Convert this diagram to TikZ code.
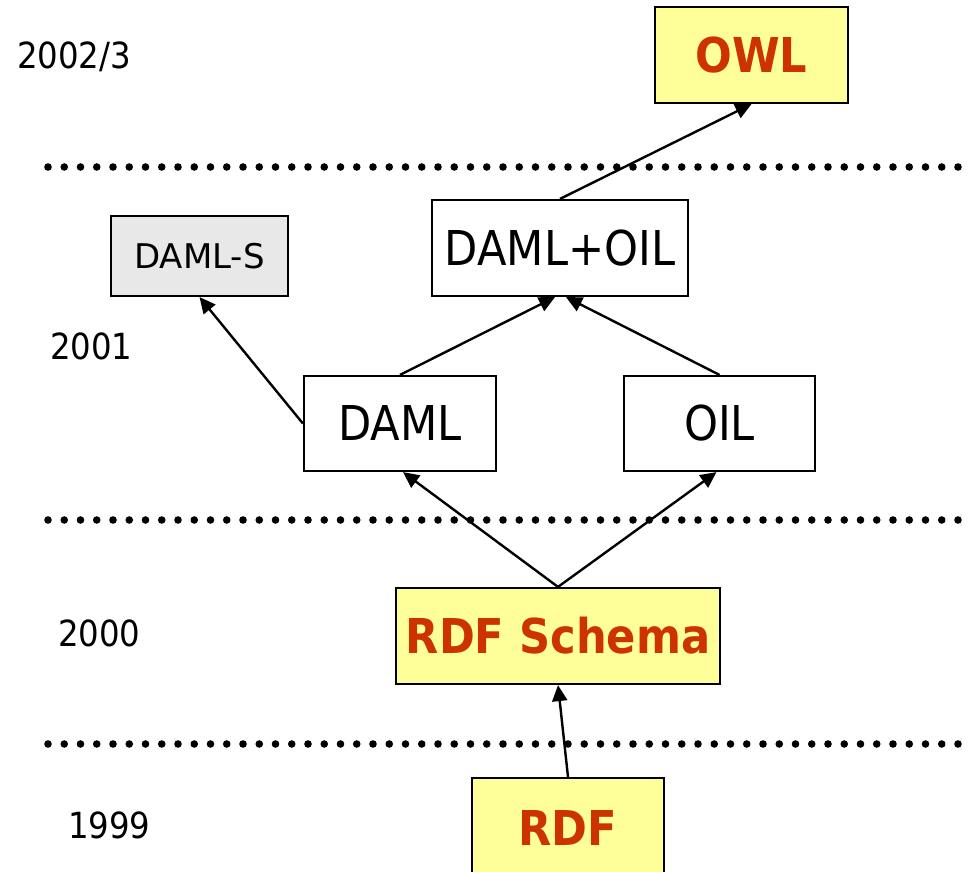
\documentclass[tikz,border=0pt]{standalone}
\usepackage{fontspec}
\setmainfont{DejaVu Sans Condensed}
\newfontfamily\widefont{DejaVu Sans}
\usetikzlibrary{arrows.meta,calc}
\definecolor{pyellow}{HTML}{FFFF99}
\definecolor{pred}{HTML}{CC3300}
\definecolor{pgray}{HTML}{E8E8E8}
\tikzset{
  box/.style={draw=black, line width=2.2pt, inner sep=0pt, fill=white,
    font=\fontsize{48}{56}\selectfont},
  hot/.style={box, fill=pyellow, text=pred, font=\fontsize{48}{56}\selectfont\bfseries},
  year/.style={anchor=west, inner sep=0pt, font=\fontsize{36}{42}\selectfont},
  arr/.style={line width=2.4pt, -{Triangle[length=16pt,width=15pt]}},
  dotfill/.style={fill=black}
}
\begin{document}
\begin{tikzpicture}[x=1pt,y=-1pt]
\clip (0,0) rectangle (970,872);
\fill[white] (0,0) rectangle (970,872);
% dotted separators
\foreach \yy in {167,520,744}{
  \foreach \i in {0,...,56}{
    \fill[dotfill] (48+\i*16.25,\yy) circle (3.8);
  }
}
% years
\node[year] (y1) at (17,57) {2002/3};
\node[year] (y2) at (50,346) {2001};
\node[year] (y3) at (58,633) {2000};
\node[year] (y4) at (68,825) {1999};
% boxes
\node[hot, minimum width=193, minimum height=96] (owl) at (751.5,55) {OWL};
\node[box, fill=pgray, minimum width=177, minimum height=80, font=\widefont\fontsize{34}{40}\selectfont] (damls) at (199.5,256) {DAML-S};
\node[box, minimum width=256, minimum height=96] (dao) at (560,248) {DAML+OIL};
\node[box, minimum width=192, minimum height=95] (daml) at (400,423.5) {DAML};
\node[box, minimum width=191, minimum height=95] (oil) at (719.5,423.5) {OIL};
\node[hot, minimum width=324, minimum height=96] (rdfs) at (558,636) {RDF Schema};
\node[hot, minimum width=192, minimum height=100] (rdf) at (568,828) {RDF};
% arrows
\draw[arr] (dao.north) -- (owl.south);
\draw[arr] (daml.north) -- ([xshift=-5]dao.south);
\draw[arr] (oil.north) -- ([xshift=6]dao.south);
\draw[arr] (daml.west) -- (damls.south);
\draw[arr] (rdfs.north) -- ([xshift=3]daml.south);
\draw[arr] (rdfs.north) -- ([xshift=-3]oil.south);
\draw[arr] (rdf.north) -- (rdfs.south);
\end{tikzpicture}
\end{document}
